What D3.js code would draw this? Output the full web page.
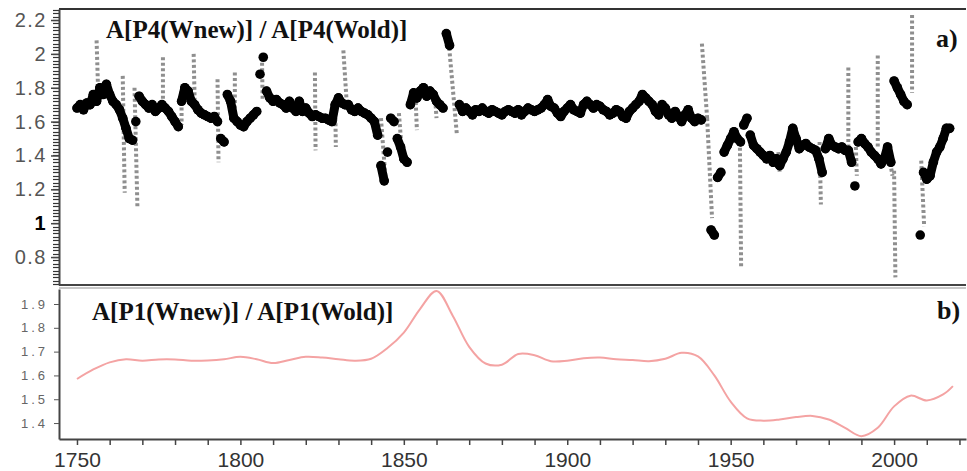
<!DOCTYPE html>
<html>
<head>
<meta charset="utf-8">
<script src="https://cdn.jsdelivr.net/npm/d3@7"></script>
<style>
  body { margin: 0; background: #fff; }
  svg { display: block; }
</style>
</head>
<body>
<svg width="967" height="471"></svg>
<script>
// panel a) : yearly ratio A[P4(Wnew)] / A[P4(Wold)], first year 1750
const blackStart = 1750;
const blackRatio = [
  1.68, 1.70, 1.67, 1.71, 1.70, 1.76, 1.72, 1.80, 1.76, 1.82,
  1.76, 1.72, 1.70, 1.67, 1.62, 1.56, 1.50, 1.49, 1.60, 1.75,
  1.72, 1.70, 1.68, 1.70, 1.66, 1.68, 1.70, 1.68, 1.66, 1.63,
  1.60, 1.57, 1.72, 1.80, 1.78, 1.72, 1.70, 1.67, 1.65, 1.64,
  1.63, 1.62, 1.63, 1.60, 1.50, 1.48, 1.76, 1.72, 1.62, 1.60,
  1.58, 1.57, 1.60, 1.62, 1.64, 1.66, 1.88, 1.98, 1.78, 1.74,
  1.72, 1.73, 1.71, 1.70, 1.68, 1.72, 1.68, 1.66, 1.72, 1.66,
  1.68, 1.65, 1.63, 1.64, 1.63, 1.62, 1.62, 1.61, 1.60, 1.70,
  1.74, 1.71, 1.70, 1.70, 1.67, 1.66, 1.68, 1.66, 1.65, 1.64,
  1.62, 1.60, 1.52, 1.34, 1.25, 1.42, 1.62, 1.60, 1.50, 1.45,
  1.38, 1.36, 1.70, 1.77, 1.74, 1.78, 1.80, 1.75, 1.78, 1.76,
  1.72, 1.70, 1.68, 2.12, 2.05, null, null, 1.70, 1.66, 1.68,
  1.66, 1.64, 1.67, 1.66, 1.68, 1.66, 1.65, 1.67, 1.66, 1.65,
  1.64, 1.66, 1.67, 1.66, 1.65, 1.67, 1.64, 1.66, 1.68, 1.67,
  1.66, 1.67, 1.68, 1.70, 1.73, 1.69, 1.68, 1.65, 1.63, 1.66,
  1.68, 1.70, 1.67, 1.66, 1.65, 1.70, 1.72, 1.70, 1.68, 1.70,
  1.69, 1.67, 1.66, 1.64, 1.65, 1.67, 1.66, 1.63, 1.62, 1.66,
  1.68, 1.70, 1.72, 1.76, 1.74, 1.72, 1.70, 1.66, 1.64, 1.70,
  1.68, 1.64, 1.62, 1.66, 1.63, 1.60, 1.64, 1.67, 1.62, 1.60,
  1.62, 1.61, null, null, 0.96, 0.93, 1.27, 1.30, 1.42, 1.46,
  1.50, 1.54, 1.50, 1.48, 1.58, 1.62, 1.52, 1.46, 1.44, 1.42,
  1.40, 1.38, 1.40, 1.36, 1.38, 1.34, 1.38, 1.42, 1.48, 1.56,
  1.50, 1.44, 1.46, 1.47, 1.45, 1.44, 1.43, 1.38, 1.30, 1.44,
  1.50, 1.46, 1.45, 1.44, 1.45, 1.43, 1.43, 1.36, 1.22, 1.48,
  1.50, 1.47, 1.45, 1.42, 1.40, 1.38, 1.35, 1.38, 1.45, 1.36,
  1.84, 1.80, 1.76, 1.72, 1.70, null, null, null, 0.93, 1.30,
  1.26, 1.28, 1.36, 1.42, 1.45, 1.50, 1.56, 1.56
];

// grey excursions of panel a): start year / end year, high value / low value
const spikeYearTop = [1756.0, 1764.0, 1767.6, 1776.3, 1782.0, 1785.7, 1793.0, 1798.3, 1806.6, 1822.8,
  1829.0, 1831.5, 1843.0, 1848.5, 1853.5, 1859.5, 1863.6, 1941.2, 1942.8, 1952.8,
  1964.6, 1977.2, 1986.0, 1988.3, 1995.0, 1998.0, 2000.0, 2005.5, 2008.3];
const spikeYearBottom = [1756.6, 1764.6, 1768.5, 1776.3, 1782.0, 1786.0, 1793.3, 1798.3, 1806.8, 1823.0,
  1829.2, 1832.5, 1844.5, 1849.5, 1854.0, 1860.0, 1866.2, 1942.8, 1944.3, 1953.2,
  1965.0, 1977.6, 1986.0, 1988.6, 1995.0, 1999.5, 2000.4, 2005.5, 2009.2];
const spikeHigh = [2.08, 1.87, 1.80, 1.98, 1.78, 2.00, 1.85, 1.89, 1.98, 1.89,
  1.72, 2.02, 1.62, 1.65, 1.78, 1.76, 2.10, 2.06, 1.62, 1.51,
  1.42, 1.48, 1.92, 1.45, 1.99, 1.45, 1.31, 2.23, 1.37];
const spikeLow = [1.70, 1.18, 1.09, 1.68, 1.58, 1.72, 1.36, 1.60, 1.72, 1.43,
  1.45, 1.72, 1.24, 1.40, 1.55, 1.62, 1.53, 1.62, 1.03, 0.74,
  1.30, 1.11, 1.40, 1.28, 1.45, 1.28, 0.68, 1.77, 0.98];

// panel b) : smoothed ratio A[P1(Wnew)] / A[P1(Wold)]
const redYears = [1750, 1755, 1760, 1765, 1770, 1775, 1780, 1785, 1790, 1795,
  1800, 1805, 1810, 1815, 1820, 1825, 1830, 1835, 1840, 1845,
  1850, 1855, 1860, 1865, 1870, 1875, 1880, 1885, 1890, 1895,
  1900, 1905, 1910, 1915, 1920, 1925, 1930, 1935, 1940, 1945,
  1950, 1955, 1960, 1965, 1970, 1975, 1980, 1985, 1990, 1995,
  2000, 2005, 2010, 2015, 2018];
const redRatio = [1.585, 1.625, 1.655, 1.668, 1.662, 1.667, 1.667, 1.662, 1.663, 1.668,
  1.678, 1.668, 1.652, 1.665, 1.678, 1.675, 1.668, 1.662, 1.670, 1.715,
  1.780, 1.880, 1.955, 1.850, 1.720, 1.650, 1.645, 1.690, 1.685, 1.660,
  1.662, 1.672, 1.675, 1.668, 1.665, 1.660, 1.670, 1.695, 1.680, 1.600,
  1.490, 1.420, 1.410, 1.415, 1.425, 1.430, 1.415, 1.380, 1.345, 1.380,
  1.470, 1.515, 1.495, 1.520, 1.555];

// tick labels
const topTicks = [0.8, 1, 1.2, 1.4, 1.6, 1.8, 2, 2.2];
const topMinor = d3.range(32, 114).map((k) => k / 50); // every 0.02
const bottomTicks = [1.4, 1.5, 1.6, 1.7, 1.8, 1.9];
const yearTicks = d3.range(1750, 2021, 10);

const svg = d3.select("svg");

// shared year scale, panel scales
const x = d3.scaleLinear().domain([1744.5, 2022]).range([59, 966]);
const yTop = d3.scaleLinear().domain([0.635, 2.265]).range([285, 9]);
const yBot = d3.scaleLinear().domain([1.333, 1.963]).range([439, 289]);

//frame lines
svg.append("line").attr("x1", 59).attr("x2", 966).attr("y1", 9).attr("y2", 9)
  .attr("stroke", "#333").attr("stroke-width", 2);
svg.append("line").attr("x1", 59).attr("x2", 966).attr("y1", 285).attr("y2", 285)
  .attr("stroke", "#444").attr("stroke-width", 2);
svg.append("line").attr("x1", 59).attr("x2", 966).attr("y1", 288).attr("y2", 288)
  .attr("stroke", "#c8c8c8").attr("stroke-width", 2);

// ---------- panel a ----------
// minor ticks, every 0.02
svg.append("g")
  .selectAll("line")
  .data(topMinor)
  .enter()
  .append("line")
  .attr("x1", 53)
  .attr("x2", 59)
  .attr("y1", (d) => Math.round(yTop(d)) + 0.5)
  .attr("y2", (d) => Math.round(yTop(d)) + 0.5)
  .attr("stroke", "#333")
  .attr("stroke-width", 1.2);

const axA = svg.append("g")
  .attr("transform", "translate(59,0)")
  .call(d3.axisLeft(yTop).tickValues(topTicks).tickSize(8).tickSizeOuter(0).tickPadding(4)
    .tickFormat((d) => String(d)));
axA.select(".domain").attr("stroke", "#444").attr("stroke-width", 2);
axA.selectAll("line").attr("stroke", "#444").attr("stroke-width", 1.5);
axA.selectAll("text")
  .style("font-family", "'Liberation Sans', Arial, sans-serif")
  .style("font-size", "20px")
  .style("letter-spacing", "1.5px")
  .attr("fill", (d) => (d === 1 ? "#000" : "#555"))
  .style("font-weight", (d) => (d === 1 ? "bold" : "normal"));

// grey excursions
svg.append("g")
  .selectAll("line")
  .data(spikeHigh)
  .enter()
  .append("line")
  .attr("x1", (d, i) => x(spikeYearTop[i]))
  .attr("x2", (d, i) => x(spikeYearBottom[i]))
  .attr("y1", (d) => yTop(d))
  .attr("y2", (d, i) => yTop(spikeLow[i]))
  .attr("stroke", "#8f8f8f")
  .attr("stroke-width", 4)
  .attr("stroke-dasharray", "3,2.5");

// black yearly points, joined where neighbouring years are close
const blackPts = blackRatio
  .map((v, i) => ({ year: blackStart + i, v: v }))
  .filter((d) => d.v !== null);
const blackLinks = blackPts.slice(1)
  .map((d, i) => [blackPts[i], d])
  .filter((p) => p[1].year - p[0].year === 1 && Math.abs(p[1].v - p[0].v) < 0.1);
svg.append("g")
  .selectAll("line")
  .data(blackLinks)
  .enter()
  .append("line")
  .attr("x1", (p) => x(p[0].year))
  .attr("y1", (p) => yTop(p[0].v))
  .attr("x2", (p) => x(p[1].year))
  .attr("y2", (p) => yTop(p[1].v))
  .attr("stroke", "#000")
  .attr("stroke-width", 9)
  .attr("stroke-linecap", "round");
svg.append("g")
  .selectAll("circle")
  .data(blackPts)
  .enter()
  .append("circle")
  .attr("cx", (d) => x(d.year))
  .attr("cy", (d) => yTop(d.v))
  .attr("r", 4.8)
  .attr("fill", "#000");

const serif = "'Liberation Serif', 'Times New Roman', serif";
svg.append("text").attr("x", 106).attr("y", 38)
  .text("A[P4(Wnew)] / A[P4(Wold)]")
  .style("font-family", serif)
  .style("font-weight", "bold").style("font-size", "25px").attr("fill", "#111");
svg.append("text").attr("x", 936).attr("y", 47).text("a)")
  .style("font-family", serif)
  .style("font-weight", "bold").style("font-size", "26px").attr("fill", "#111");

// ---------- panel b ----------
const axB = svg.append("g")
  .attr("transform", "translate(59,0)")
  .call(d3.axisLeft(yBot).tickValues(bottomTicks).tickSize(5).tickSizeOuter(0).tickPadding(6)
    .tickFormat(d3.format(".1f")));
axB.select(".domain").attr("stroke", "#444").attr("stroke-width", 2);
axB.selectAll("line").attr("stroke", "#555");
axB.selectAll("text")
  .style("font-family", "'Liberation Sans', Arial, sans-serif")
  .style("font-size", "13px")
  .style("letter-spacing", "3px")
  .attr("fill", "#666");

const axX = svg.append("g")
  .attr("transform", "translate(0,439)")
  .call(d3.axisBottom(x).tickValues(yearTicks).tickSize(6).tickSizeOuter(0).tickPadding(7)
    .tickFormat((d) => (d % 50 === 0 ? d : "")));
axX.select(".domain").attr("stroke", "#444").attr("stroke-width", 2);
axX.selectAll("line").attr("stroke", "#444").attr("stroke-width", 1.5);
axX.selectAll("text")
  .style("font-family", "'Liberation Sans Narrow', 'Liberation Sans', sans-serif")
  .style("font-size", "21px")
  .attr("fill", "#333");

const redLine = d3.line()
  .x((d, i) => x(redYears[i]))
  .y((d) => yBot(d))
  .curve(d3.curveCatmullRom.alpha(0.5));
svg.append("path")
  .datum(redRatio)
  .attr("d", redLine)
  .attr("fill", "none")
  .attr("stroke", "#f4a3a3")
  .attr("stroke-width", 2);

svg.append("text").attr("x", 92).attr("y", 320)
  .text("A[P1(Wnew)] / A[P1(Wold)]")
  .style("font-family", serif)
  .style("font-weight", "bold").style("font-size", "25px").attr("fill", "#111");
svg.append("text").attr("x", 937).attr("y", 319).text("b)")
  .style("font-family", serif)
  .style("font-weight", "bold").style("font-size", "26px").attr("fill", "#111");
</script>
</body>
</html>
